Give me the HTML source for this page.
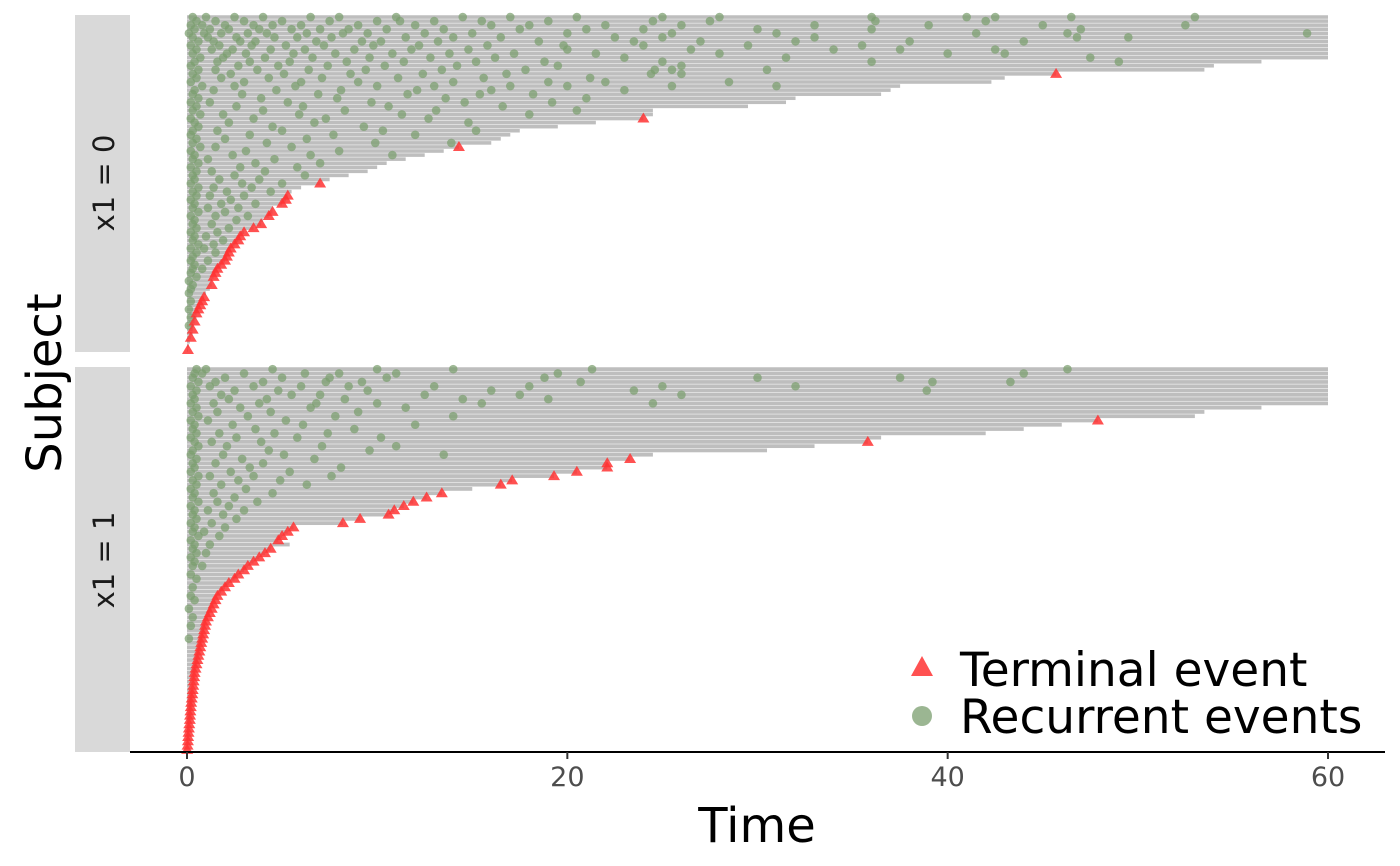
<!DOCTYPE html>
<html><head><meta charset="utf-8"><style>
html,body{margin:0;padding:0;background:#fff;}
svg{display:block;font-family:"DejaVu Sans","Liberation Sans",sans-serif;}
</style></head><body>
<svg id="chart" width="1400" height="866" viewBox="0 0 1400 866" xmlns="http://www.w3.org/2000/svg">
<rect x="75" y="15" width="55" height="337" fill="#d9d9d9"/>
<rect x="75" y="367" width="55" height="385" fill="#d9d9d9"/>
<text transform="translate(114,183) rotate(-90)" text-anchor="middle" font-size="29" fill="#1a1a1a">x1 = 0</text>
<text transform="translate(114,560) rotate(-90)" text-anchor="middle" font-size="29" fill="#1a1a1a">x1 = 1</text>
<text transform="translate(61,383) rotate(-90)" text-anchor="middle" font-size="48" fill="#000">Subject</text>
<g id="marks"></g>
<line x1="130" y1="752" x2="1385" y2="752" stroke="#000" stroke-width="2"/>
<g id="xaxis"></g>
<text x="757" y="842" text-anchor="middle" font-size="48" fill="#000">Time</text>
<g>
<polygon points="922,656 933,676 911,676" fill="#ff3333" fill-opacity="0.85"/>
<text x="960" y="686" font-size="47" fill="#000">Terminal event</text>
<circle cx="922" cy="716" r="10" fill="#7a9e6e" fill-opacity="0.75"/>
<text x="960" y="733" font-size="47" fill="#000">Recurrent events</text>
</g>
</svg>
<script>
const xTicks = [0, 20, 40, 60];
const end0 = [60,60,60,60,60,60,60,60,60,60,60,56.5,54,53.5,45.7,43,42.3,37.5,37,36.5,32,31.5,29.5,24.5,24.5,24,21.5,19.5,17.5,17,16.5,16,14.3,13.5,12.5,11.5,10.5,10,9.5,8.5,7.5,7,6,5.5,5.3,5.2,5,4.5,4.5,4.3,4,3.9,3.5,3,2.8,2.7,2.5,2.3,2.2,2.1,2,1.8,1.6,1.5,1.4,1.3,1.3,1.2,1,0.9,0.8,0.7,0.6,0.5,0.5,0.4,0.35,0.3,0.3,0.2,0.15,0.1,0.05];
const term0 = [0,0,0,0,0,0,0,0,0,0,0,0,0,0,1,0,0,0,0,0,0,0,0,0,0,1,0,0,0,0,0,0,1,0,0,0,0,0,0,0,0,1,0,0,1,1,1,0,1,1,0,1,1,1,1,1,1,1,1,1,1,1,1,1,1,0,1,0,0,1,1,1,1,1,0,1,0,1,0,1,0,0,1];
const events0 = ["0.3 1 2.5 4 6.5 8 11 14.5 17 20.5 25 28 36 41 42.5 46.5 53","0.5 1.5 3 5 7.5 10 11.2 13 15.5 19 24.5 27.5 36.2 42","0.2 0.8 2 3.5 4.5 6 9 12 16 18 22 26 33 39 45 52.5","0.4 1.2 2.2 3.8 5.5 7 8.5 10.5 13.5 17.5 21 24 30 36 47","0.1 0.9 1.8 3.2 4.2 6.3 8.2 9.5 12.5 15 20 25.5 31 41.5 46.3 58.9","0.3 1.1 2.6 4.6 5.8 7.6 11.5 14 16.5 22.5 25 33 46.8 49.5","0.6 1.4 2.8 3.6 6.8 9.2 10.2 13.2 18.5 23.5 27 32 38 44","0.2 1.7 3.4 5.2 7.2 9.8 12.2 15.8 19.8 24 29.5 35.5","0.5 1.3 2.4 4.4 6.2 8.8 11.8 14.8 20 26.5 34 37.5 42.5","0.3 2.1 3.1 5.6 7.8 10.8 13.8 17.2 21.5 28 40 43","0.7 1.9 4.1 6.6 9.6 12.8 16.2 23 31.5 47.5","0.4 1.6 3.3 5.4 8.4 11.4 15.2 18.8 25 36 49","0.2 2.7 4.8 7.4 10.4 14.2 19.5 26","0.6 1.5 3.7 6.4 9.4 13.4 17.8 24.6 25.5 30.5","0.3 2.3 5.1 8.6 12.4 16.8 24.4 26","0.5 1.8 4.3 7.1 11.1 15.6 21.2","0.2 3 6 9 14 19 22 28.5","0.8 2.5 5.7 10 13 17 20 25.5 31","0.4 1.4 4.7 8.1 12.1 16 23","0.3 2.9 6.9 11.6 15.4 18.2","0.6 3.9 7.9 13.6 21","0.2 1.2 5.3 9.7 14.6 19.2","0.5 2.6 6.1 10.6 16.6","0.3 4 8.3 13.1 20.5","0.7 1.9 5.9 11.3 18","0.2 3.5 7.3 12.7","0.4 2.2 6.7 14.8","0.6 4.5 9.3","0.3 1.6 5 10.3 15.2","0.2 3.3 7.7 12","0.5 2 6.3","0.3 4.2 9.9 13.9","0.7 1.5 5.5","0.2 3.1 8","0.4 2.4 6.5 10.8","0.3 1.1 4.6","0.6 3.6 7","0.2 2.8 5.8","0.5 1.3 4.1","0.3 2.5 6.2","0.4 1.7 3.8","0.2 2.9 5","0.6 1.4 3.4","0.3 2.1 4.4","0.5 1.2 3","0.2 2.3","0.4 1.8 3.6","0.3 1.1 2.7","0.6 2","0.2 1.5 3.2","0.4 2.6","0.3 1.3","0.5 2.2","0.2 1.6","0.4 1","0.3 1.9","0.6 1.4","0.2 0.9","0.5 1.5","0.3","0.2 1.1","0.4","0.3 0.8","0.2","0.5","0.1","0.3","0.2","0.1","","0.2","","0.1","","0.2","","0.1","","","","","",""];
const end1 = [60,60,60,60,60,60,60,60,60,56.5,53.5,53,47.9,46,44,42,36.5,35.8,33,30.5,24.5,23.3,22.1,22.1,20.5,19.3,17.1,16.5,15,13.4,12.6,11.9,11.4,10.9,10.6,9.1,8.2,5.6,5.3,5,4.8,5.4,4.4,4.1,3.8,3.5,3.2,3,2.7,2.5,2.2,2,1.8,1.6,1.5,1.4,1.3,1.2,1.1,1,0.95,0.9,0.85,0.8,0.75,0.7,0.65,0.6,0.55,0.5,0.45,0.4,0.38,0.35,0.33,0.3,0.28,0.25,0.22,0.2,0.18,0.16,0.15,0.12,0.1,0.08,0.06,0.05,0.03,0.01];
const term1 = [0,0,0,0,0,0,0,0,0,0,0,0,1,0,0,0,0,1,0,0,0,1,1,1,1,1,1,1,0,1,1,1,1,1,1,1,1,1,1,1,1,0,1,1,1,1,1,1,1,1,1,1,1,1,1,1,1,1,1,1,1,1,1,1,1,1,1,1,1,1,1,1,1,1,1,1,1,1,1,1,1,1,1,1,1,1,1,1,1,1];
const events1 = ["0.5 1 4.5 10 14 21.3 46.3","0.4 0.8 3 6.2 8 11 19.5 44","0.3 2 5 7.5 10.5 18.8 30 37.5","0.6 1.5 4 7.3 9.2 20.7 39.2 43.3","0.2 1.2 3.5 6 8.5 13 18 25 32","0.5 2.5 4.8 9.5 16 23.5 38.9","0.3 1.8 5.5 7 12.5 17.5 26","0.4 2.2 4.2 8.3 14.5 19","0.2 1.4 3.8 6.8 10 15.5 24.5","0.5 2.8 6.5 11.5","0.3 1.6 4.4 9","0.6 3.2 7.8 14","0.2 1.1 5.2","0.4 2.4 6.1 12","0.3 3.6 8.8","0.5 1.7 4.6 7.4","0.2 2.6 5.8 10.2","0.4 1.3 3.9","0.6 2.1 7.1 11","0.3 4.3 9.6","0.2 1.9 5.1 13.5","0.5 2.9 6.7","0.3 1.5 4","0.4 3.3 8.1","0.2 2.3 5.4","0.6 1.2 3.5 7.6","0.3 2.7 4.9","0.5 1.8 6.3","0.2 3.1","0.4 1.4 4.5","0.3 2.5","0.6 1.6 3.7","0.2 2.2","0.4 1.1 3","0.3 1.9","0.5 2.6","0.2 1.3","0.4 2","0.3 0.9","0.6 1.7","0.2","0.4 1.2","0.3","0.5 1","0.2","0.4","0.3 0.8","","0.2","0.5","","0.3","","0.2","0.4","","0.1","","0.3","","0.2","","","0.1","","","","","","","","","","","","","","","","","","","","","","","","","","",""];

const X0 = 187, X60 = 1328;
function xScale(t){ return X0 + (X60 - X0) * t / 60; }
const NS = "http://www.w3.org/2000/svg";
const marks = document.getElementById('marks');
function mk(tag, attrs){ const e = document.createElementNS(NS, tag); for (const k in attrs) e.setAttribute(k, attrs[k]); return e; }

const panels = [
  {top: 15, h: 337, end: end0, term: term0, ev: events0},
  {top: 367, h: 385, end: end1, term: term1, ev: events1}
];
const gBars = mk('g', {}); const gPts = mk('g', {}); const gTri = mk('g', {});
marks.appendChild(gBars); marks.appendChild(gPts); marks.appendChild(gTri);
panels.forEach(p => {
  const n = p.end.length, step = p.h / n;
  const yRow = i => p.top + (i + 0.5) * step;
  p.end.forEach((e, i) => {
    const y = yRow(i), bh = step * 0.88;
    const bar = mk('rect', {x: xScale(0), y: y - bh / 2, width: xScale(e) - xScale(0), height: bh, fill: '#bebebe'});
    
    
    gBars.appendChild(bar);
    const evs = (p.ev[i] || '').trim();
    if (evs) evs.split(/\s+/).map(Number).filter(t => t <= e).forEach(t => {
      const c = mk('circle', {cx: xScale(t), cy: y, r: 4.3, fill: '#7a9e6e', 'fill-opacity': 0.72});
      
      
      gPts.appendChild(c);
    });
    if (p.term[i]) {
      const x = xScale(e);
      const tri = mk('polygon', {points: `${x},${y-6} ${x+6},${y+4} ${x-6},${y+4}`, fill: '#ff3333', 'fill-opacity': 0.85});
      
      
      gTri.appendChild(tri);
    }
  });
});
const xa = document.getElementById('xaxis');
xTicks.forEach(v => {
  const x = xScale(v);
  const tk = mk('line', {x1: x, y1: 752, x2: x, y2: 759, stroke: '#333', 'stroke-width': 2});
  
  
  xa.appendChild(tk);
  const lb = mk('text', {x: x, y: 786, 'text-anchor': 'middle', 'font-size': 27, fill: '#4d4d4d'});
  lb.textContent = v;
  
  
  xa.appendChild(lb);
});
</script>
</body></html>
